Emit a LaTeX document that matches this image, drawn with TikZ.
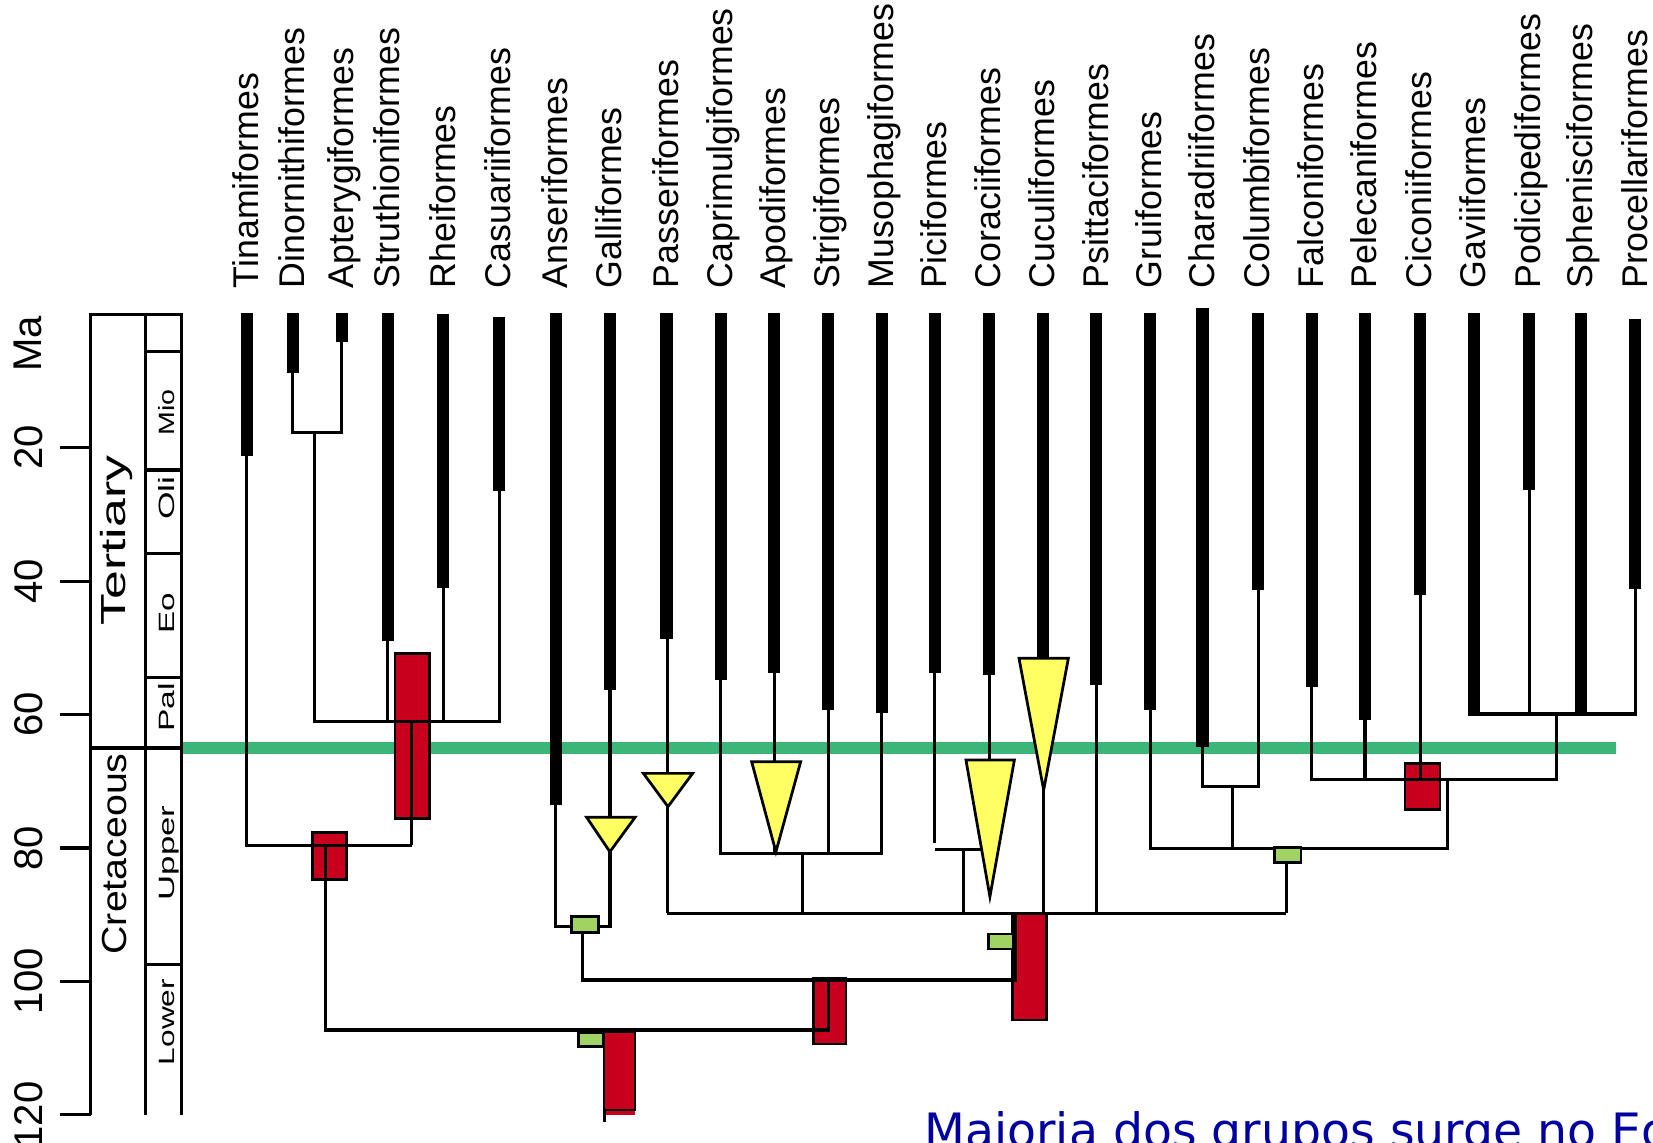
\documentclass[tikz,border=0pt]{standalone}
\usepackage{fontspec}
\usepackage{graphicx}
\setmainfont{Liberation Sans}
\newfontfamily\notefont{DejaVu Sans}
\definecolor{ktgreen}{RGB}{60,182,120}
\definecolor{boxred}{RGB}{200,0,30}
\definecolor{boxgreen}{RGB}{160,210,100}
\definecolor{triyellow}{RGB}{255,255,100}
\definecolor{noteblue}{RGB}{0,0,160}
\begin{document}
\begin{tikzpicture}[x=1pt,y=-1pt,line join=miter,
  branch/.style={line width=2.9pt},
  taxbar/.style={line width=11.5pt},
  redbox/.style={fill=boxred,draw=black,line width=2.6pt},
  grnbox/.style={fill=boxgreen,draw=black,line width=2.6pt},
  tri/.style={fill=triyellow,draw=black,line width=2.6pt},
  taxlab/.style={rotate=90,anchor=west,inner sep=0pt,font=\fontsize{33.9}{40}\selectfont,text height=24.3pt,text depth=0pt},
  axlab/.style={rotate=90,anchor=center,inner sep=0pt,font=\fontsize{38}{44}\selectfont,text height=27.2pt,text depth=0pt},
  perlab/.style={rotate=90,anchor=center,inner sep=0pt,font=\fontsize{33}{40}\selectfont,text height=23.6pt,text depth=0pt},
  eplab/.style={rotate=90,anchor=center,inner sep=0pt,font=\fontsize{21}{25}\selectfont,text height=15pt,text depth=0pt}]
\clip (0,0) rectangle (1568,1084);
\fill[white] (0,0) rectangle (1568,1084);

% K-T boundary
\draw[ktgreen,line width=10.5pt] (172.3,709.5) -- (1533,709.5);

% time scale
\draw[branch] (86,1057.6) -- (86,298) -- (172.3,298) -- (172.3,1057.6);
\draw[branch] (138.2,298) -- (138.2,1057.6);
\foreach \yy in {333.6,445.8,524.6,643,915} \draw[branch] (138.2,\yy) -- (172.3,\yy);
\draw[branch] (86,709.5) -- (172.3,709.5);
\foreach \yy in {424.6,551.2,677.8,804.4,931,1057.6} \draw[branch] (57,\yy) -- (86,\yy);
\node[axlab] (ma) at (26,326) {Ma};
\node[axlab] (m20) at (27,424.6) {20};
\node[axlab] (m40) at (27,551.2) {40};
\node[axlab] (m60) at (27,677.8) {60};
\node[axlab] (m80) at (27,804.4) {80};
\node[axlab] (m100) at (27,931) {100};
\node[axlab] (m120) at (27,1057.6) {120};
\node[perlab] (tert) at (107,513) {\scalebox{1.49}[1]{Tertiary}};
\node[perlab] (cret) at (108,810) {\scalebox{1.13}[1]{Cretaceous}};
\node[eplab] (mio) at (158,391.5) {\scalebox{1.29}[1]{Mio}};
\node[eplab] (oli) at (158,472.5) {\scalebox{1.6}[1]{Oli}};
\node[eplab] (eo) at (158,581.7) {\scalebox{1.5}[1]{Eo}};
\node[eplab] (pal) at (158,671) {\scalebox{1.52}[1]{Pal}};
\node[eplab] (upp) at (158,809) {\scalebox{1.57}[1]{Upper}};
\node[eplab] (low) at (158,969.5) {\scalebox{1.43}[1]{Lower}};

% red boxes (under lines)
\draw[redbox] (296.6,790) rectangle (328.9,834);
\draw[redbox] (374.7,619.7) rectangle (407.2,776.2);
\draw[redbox] (771.5,928) rectangle (802.5,990.3);
\draw[redbox] (960.3,866.4) rectangle (992.9,967.6);
\draw[redbox] (1332.8,724) rectangle (1366,767.7);
\fill[boxred] (573,1050) rectangle (602.4,1058);
\draw[redbox] (573,978.7) rectangle (602.4,1053);
\draw[branch] (573,1053) -- (573,1064);

% branches: palaeognaths
\draw[branch] (234,433) -- (234,801.6) -- (390.5,801.6);
\draw[branch] (277.6,353.5) -- (277.6,410.4) -- (324.3,410.4) -- (324.3,324);
\draw[branch] (298.2,410.4) -- (298.2,684.6) -- (473.5,684.6) -- (473.5,466);
\draw[branch] (368,600) -- (368,684.6);
\draw[branch] (420.5,550) -- (420.5,684.6);
\draw[branch] (390.5,684.6) -- (390.5,801.6);
\draw[branch] (309,801.6) -- (309,977) -- (785.7,977) -- (785.7,929.6);
% Galloanserae
\draw[branch] (527.2,760) -- (527.2,878.4) -- (578.6,878.4) -- (578.6,650);
\draw[branch] (552.7,878.4) -- (552.7,929.6) -- (963.4,929.6) -- (963.4,866.4);
% Neoaves
\draw[branch] (633,866.4) -- (1220,866.4);
\draw[branch] (633,600) -- (633,866.4);
\draw[branch] (683.5,640) -- (683.5,809.4) -- (836.3,809.4) -- (836.3,670);
\draw[branch] (735,630) -- (735,809.4);
\draw[branch] (785.5,670) -- (785.5,809.4);
\draw[branch] (761,809.4) -- (761,866.4);
\draw[branch] (886.6,630) -- (886.6,800);
\draw[branch] (886.6,805.4) -- (931,805.4);
\draw[branch] (913.8,805.4) -- (913.8,866.4);
\draw[branch] (938.3,630) -- (938.3,721);
\draw[branch] (989.5,740) -- (989.5,866.4);
\draw[branch] (1040,640) -- (1040,866.4);
\draw[branch] (1220,810) -- (1220,866.4);
\draw[branch] (1091,670) -- (1091,804.7) -- (1373.2,804.7) -- (1373.2,739);
\draw[branch] (1140.6,700) -- (1140.6,746.2) -- (1193.4,746.2) -- (1193.4,555);
\draw[branch] (1169,746.2) -- (1169,804.7);
\draw[branch] (1244.2,650) -- (1244.2,739) -- (1476,739) -- (1476,677.3);
\draw[branch] (1294.8,680) -- (1294.8,739);
\draw[branch] (1347,560) -- (1347,739);
\draw[branch] (1392.2,677.3) -- (1551.2,677.3) -- (1551.2,555);
\draw[branch] (1450.4,460) -- (1450.4,677.3);

% thick bars
\draw[taxbar] (234,297) -- (234,433);
\draw[taxbar] (277.6,297) -- (277.6,353.5);
\draw[taxbar] (324.3,297) -- (324.3,324);
\draw[taxbar] (368,297) -- (368,608);
\draw[taxbar] (420.5,298) -- (420.5,558);
\draw[taxbar] (473.5,301) -- (473.5,466);
\draw[taxbar] (527.2,297) -- (527.2,763.6);
\draw[taxbar] (578.6,297) -- (578.6,654.5);
\draw[taxbar] (632.2,297) -- (632.2,606);
\draw[taxbar] (683.5,297) -- (683.5,645);
\draw[taxbar] (734.4,297) -- (734.4,638.7);
\draw[taxbar] (785.5,297) -- (785.5,673.5);
\draw[taxbar] (836.3,297) -- (836.3,676);
\draw[taxbar] (886.6,297) -- (886.6,638.7);
\draw[taxbar] (938.3,297) -- (938.3,640.3);
\draw[taxbar] (989.5,297) -- (989.5,630);
\draw[taxbar] (1040,297) -- (1040,649.8);
\draw[taxbar] (1091,297) -- (1091,673.5);
\draw[taxbar] (1140.6,292) -- (1140.6,708.9);
\draw[taxbar] (1193.4,297) -- (1193.4,559.7);
\draw[taxbar] (1244.2,297) -- (1244.2,652);
\draw[taxbar] (1294.8,297) -- (1294.8,683);
\draw[taxbar] (1347,297) -- (1347,564.4);
\draw[taxbar] (1397.8,297) -- (1397.8,677.3);
\draw[taxbar] (1450.4,297) -- (1450.4,465);
\draw[taxbar] (1499.3,297) -- (1499.3,677.3);
\draw[taxbar] (1551.2,303) -- (1551.2,559);

% triangles
\draw[tri] (556.5,775.3) -- (602.4,775.3) -- (578.5,808) -- cycle;
\draw[tri] (610.3,733.6) -- (657,733.6) -- (633.6,765.2) -- cycle;
\draw[tri] (713,722.5) -- (759.5,722.5) -- (736,808) -- cycle;
\draw[tri] (916.3,721) -- (962.2,721) -- (939,850.6) -- cycle;
\draw[tri] (966.6,624.5) -- (1013.4,624.5) -- (990,749.4) -- cycle;

% green boxes
\draw[grnbox] (542.3,869.5) rectangle (567.5,884.7);
\draw[grnbox] (548.6,979.6) rectangle (572.3,992.9);
\draw[grnbox] (937.5,886) rectangle (961.2,900.2);
\draw[grnbox] (1208.8,804) rectangle (1234.2,818);

% taxon labels
\node[taxlab] (t1) at (233,273.5) {Tinamiformes};
\node[taxlab] (t2) at (276.6,273.5) {Dinornithiformes};
\node[taxlab] (t3) at (323.3,273.5) {Apterygiformes};
\node[taxlab] (t4) at (367,273.5) {Struthioniformes};
\node[taxlab] (t5) at (419.5,273.5) {Rheiformes};
\node[taxlab] (t6) at (472.5,273.5) {Casuariiformes};
\node[taxlab] (t7) at (526.2,273.5) {Anseriformes};
\node[taxlab] (t8) at (577.6,273.5) {Galliformes};
\node[taxlab] (t9) at (631.2,273.5) {Passeriformes};
\node[taxlab] (t10) at (682.5,273.5) {Caprimulgiformes};
\node[taxlab] (t11) at (733.4,273.5) {Apodiformes};
\node[taxlab] (t12) at (784.5,273.5) {Strigiformes};
\node[taxlab] (t13) at (835.3,273.5) {Musophagiformes};
\node[taxlab] (t14) at (885.6,273.5) {Piciformes};
\node[taxlab] (t15) at (937.3,273.5) {Coraciiformes};
\node[taxlab] (t16) at (988.5,273.5) {Cuculiformes};
\node[taxlab] (t17) at (1039,273.5) {Psittaciformes};
\node[taxlab] (t18) at (1090,273.5) {Gruiformes};
\node[taxlab] (t19) at (1139.6,273.5) {Charadriiformes};
\node[taxlab] (t20) at (1192.4,273.5) {Columbiformes};
\node[taxlab] (t21) at (1243.2,273.5) {Falconiformes};
\node[taxlab] (t22) at (1293.8,273.5) {Pelecaniformes};
\node[taxlab] (t23) at (1346,273.5) {Ciconiiformes};
\node[taxlab] (t24) at (1396.8,273.5) {Gaviiformes};
\node[taxlab] (t25) at (1449.4,273.5) {Podicipediformes};
\node[taxlab] (t26) at (1498.3,273.5) {Sphenisciformes};
\node[taxlab] (t27) at (1550.2,273.5) {Procellariformes};

% note
\node[anchor=base west,inner sep=0pt,text=noteblue,font=\notefont\fontsize{44.9}{52}\selectfont] (note) at (876.7,1088.4) {Majoria dos grupos surge no Eo};
\end{tikzpicture}
\end{document}
